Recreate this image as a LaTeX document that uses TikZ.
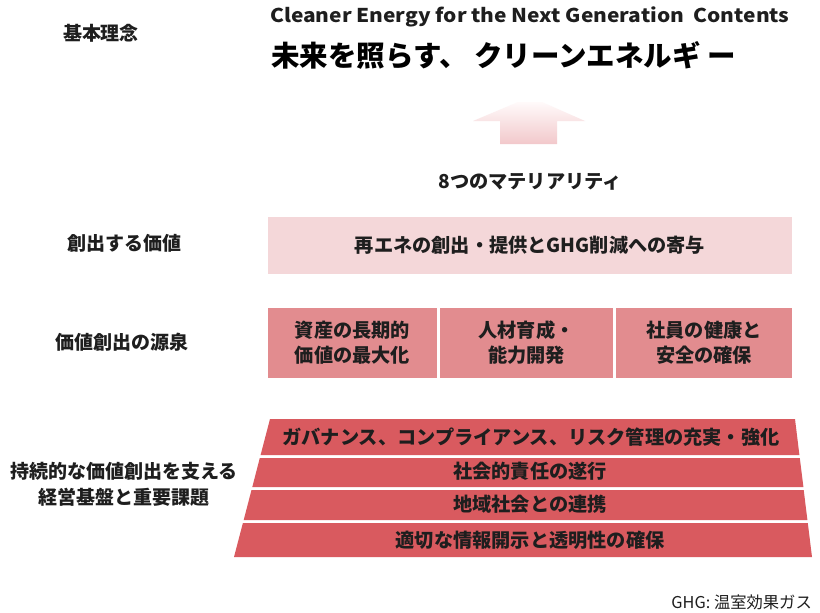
\documentclass[tikz,border=0pt]{standalone}
\usepackage{fontspec}
\setmainfont{Noto Sans CJK JP}
\definecolor{palepink}{RGB}{244,215,217}
\definecolor{midpink}{RGB}{226,140,143}
\definecolor{redrow}{RGB}{217,90,95}
\definecolor{ink}{RGB}{30,30,30}
\definecolor{arrtop}{RGB}{255,250,250}
\definecolor{arrbot}{RGB}{242,200,203}
\begin{document}
\begin{tikzpicture}[x=1pt,y=-1pt,
  lbl/.style={font=\fontsize{19}{26}\selectfont\bfseries, text=ink, align=center, inner sep=0},
  txt/.style={font=\fontsize{19.2}{25}\selectfont\bfseries, text=ink, align=center, inner sep=0},
  boxa/.style={fill=palepink, draw=none},
  boxb/.style={fill=midpink, draw=none},
  rowc/.style={fill=redrow, draw=none}]
\useasboundingbox[fill=white] (0,0) rectangle (820,613);

% left labels
\node[lbl] (l1) at (101,33) {基本理念};
\node[lbl] (l2) at (124,243) {創出する価値};
\node[lbl] (l3) at (122,342) {価値創出の源泉};
\node[lbl] (l4) at (124,484) {持続的な価値創出を支える\\経営基盤と重要課題};

% title
\node[anchor=west, font=\fontsize{19}{22}\selectfont\bfseries, text=ink, inner sep=0] (t1) at (270,17) {\scalebox{1.1}[1]{Cleaner Energy for the Next Generation\ \ Contents}};
\node[anchor=west, font=\fontsize{28.5}{32}\selectfont\bfseries, text=black, inner sep=0] (t2) at (271,55) {未来を照らす、\ クリーンエネルギ\ ー};

% arrow
\path[top color=arrtop, bottom color=arrbot] (518,102) -- (542,102) -- (585,121) -- (557,121) -- (557,144) -- (500,144) -- (500,121) -- (473,121) -- cycle;
\node[txt] (mat) at (530,182) {8つのマテリアリティ};

% created value
\path[boxa] (268,217) rectangle (792,274);
\node[txt] (v1) at (530,245) {再エネの創出・提供とGHG削減への寄与};

% sources
\path[boxb] (268,308) rectangle (437,378);
\path[boxb] (440,308) rectangle (613,378);
\path[boxb] (616,308) rectangle (792,378);
\node[txt] (s1) at (352.5,343) {資産の長期的\\価値の最大化};
\node[txt] (s2) at (526.5,343) {人材育成・\\能力開発};
\node[txt] (s3) at (704,343) {社員の健康と\\安全の確保};

% foundation trapezoid rows
\path[rowc] (270,419) -- (795,419) -- (799.4,455) -- (260.6,455) -- cycle;
\path[rowc] (259.8,458) -- (799.8,458) -- (803.4,487) -- (252.3,487) -- cycle;
\path[rowc] (251.5,490) -- (803.7,490) -- (807.4,520) -- (243.7,520) -- cycle;
\path[rowc] (242.9,523) -- (807.8,523) -- (812,557) -- (234,557) -- cycle;
\node[txt] (r1) at (531,437) {ガバナンス、コンプライアンス、リスク管理の充実・強化};
\node[txt] (r2) at (530,471) {社会的責任の遂行};
\node[txt] (r3) at (530,504) {地域社会との連携};
\node[txt] (r4) at (530,540) {適切な情報開示と透明性の確保};

% footnote
\node[anchor=east, font=\fontsize{16.3}{19}\selectfont, text=ink, inner sep=0] (fn) at (812,602) {GHG: 温室効果ガス};
\end{tikzpicture}
\end{document}
